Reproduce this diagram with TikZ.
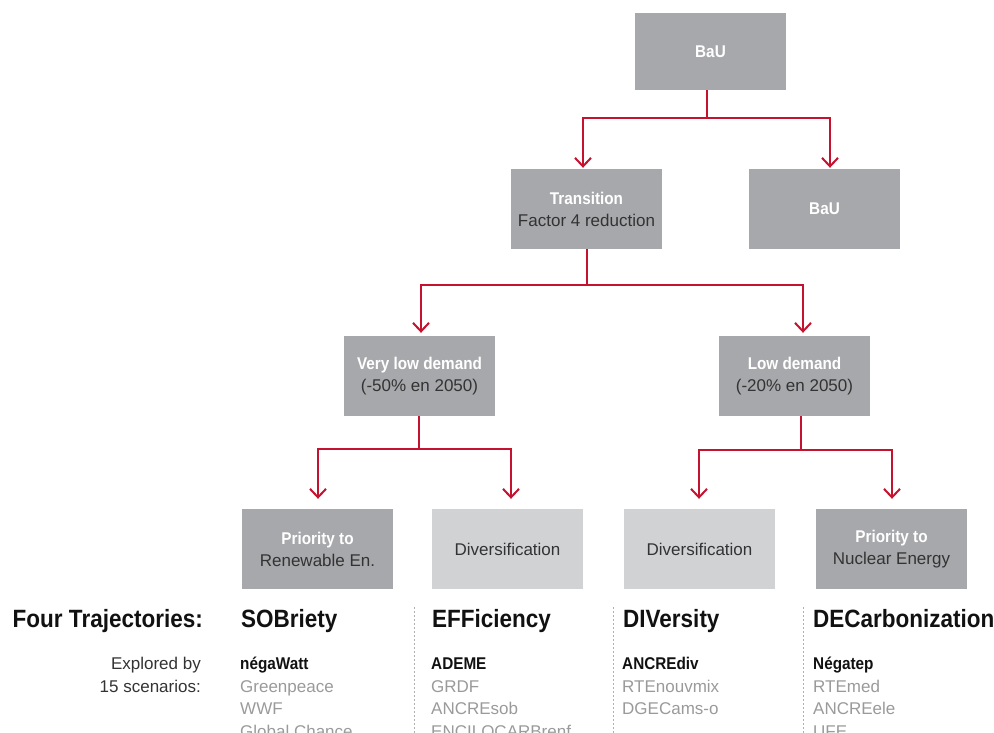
\documentclass[tikz,border=0pt]{standalone}
\usepackage{fontspec}
\setmainfont{Liberation Sans}
\newfontfamily\cb[FakeStretch=0.9]{Liberation Sans}
\usetikzlibrary{arrows.meta}
\definecolor{boxdark}{HTML}{A7A8AB}
\definecolor{boxlight}{HTML}{D1D2D4}
\definecolor{rd}{HTML}{C4122F}
\definecolor{txtdark}{HTML}{333333}
\definecolor{txtgray}{HTML}{9A9A9A}
\definecolor{dashgray}{HTML}{B0B0B0}
\definecolor{headblack}{HTML}{111111}
\newcommand\bw[1]{{\color{white}\cb\bfseries #1}}
\newcommand\bk[1]{{\color{headblack}\cb\bfseries #1}}
\begin{document}
\begin{tikzpicture}[x=1pt,y=-1pt,
  box/.style={minimum width=151pt, minimum height=80pt, inner sep=0pt, align=center,
    text=txtdark, font=\fontsize{17}{22}\selectfont},
  dbox/.style={box, fill=boxdark},
  lbox/.style={box, fill=boxlight},
  conn/.style={draw=rd, line width=2pt},
  arr/.style={conn, -{Straight Barb[length=8.5pt,width=16pt]}},
  head/.style={inner sep=0pt, text=headblack, font=\fontsize{25}{25}\cb\bfseries},
  item/.style={inner sep=0pt, anchor=base west, text=txtgray, font=\fontsize{17}{22}\selectfont},
  expl/.style={inner sep=0pt, anchor=base east, text=txtdark, font=\fontsize{17}{22}\selectfont},
  sep/.style={draw=dashgray, line width=0.8pt, dash pattern=on 2pt off 2pt}
]
\useasboundingbox (0,0) rectangle (994,733);
\clip (0,0) rectangle (994,733);

% boxes
\node[dbox, minimum height=77pt] (bau) at (710.5,51.5) {\bw{BaU}};
\node[dbox] (trans) at (586.5,209) {\bw{Transition}\\Factor 4 reduction};
\node[dbox] (bau2) at (824.5,209) {\bw{BaU}};
\node[dbox] (vlow) at (419.5,376) {\bw{Very low demand}\\(-50\% en 2050)};
\node[dbox] (low) at (794.5,376) {\bw{Low demand}\\(-20\% en 2050)};
\node[dbox] (p1) at (317.5,549) {\bw{Priority to}\\Renewable En.};
\node[lbox] (d1) at (507.5,549) {\raisebox{-4pt}{Diversification}};
\node[lbox] (d2) at (699.5,549) {\raisebox{-4pt}{Diversification}};
\node[dbox] (p2) at (891.5,549) {\bw{Priority to}\\Nuclear Energy};

% connectors
\draw[conn] ([xshift=-3.5pt]bau.south) -- ++(0,28) coordinate (j1);
\draw[arr] (j1) -| ([xshift=-3.5pt,yshift=1pt]trans.north);
\draw[arr] (j1) -| ([xshift=5.5pt,yshift=1pt]bau2.north);

\draw[conn] (trans.south) -- ++(0,36) coordinate (j2);
\draw[arr] (j2) -| ([xshift=1.5pt,yshift=3pt]vlow.north);
\draw[arr] (j2) -| ([xshift=8.5pt,yshift=3pt]low.north);

\draw[conn] ([xshift=-0.5pt]vlow.south) -- ++(0,33) coordinate (j3);
\draw[arr] (j3) -| ([xshift=0.5pt,yshift=10pt]p1.north);
\draw[arr] (j3) -| ([xshift=3.5pt,yshift=10pt]d1.north);

\draw[conn] ([xshift=6.5pt]low.south) -- ++(0,34) coordinate (j4);
\draw[arr] (j4) -| ([xshift=-0.5pt,yshift=10pt]d2.north);
\draw[arr] (j4) -| ([xshift=0.5pt,yshift=10pt]p2.north);

% headings
\node[head, anchor=base east] (ft) at (203,627) {Four Trajectories:};
\node[head, anchor=base west] (h1) at (241,627) {SOBriety};
\node[head, anchor=base west] (h2) at (432,627) {EFFiciency};
\node[head, anchor=base west] (h3) at (623,627) {DIVersity};
\node[head, anchor=base west] (h4) at (813,627) {DECarbonization};

% separators
\draw[sep] (414,607) -- (414,733);
\draw[sep] (613,607) -- (613,733);
\draw[sep] (803,607) -- (803,733);

% explored
\node[expl] (e1) at (201,669) {Explored by};
\node[expl] (e2) at (201,692) {15 scenarios:};

% lists
\node[item] (a1) at (240,669) {\bk{négaWatt}};
\node[item] (a2) at (240,692) {Greenpeace};
\node[item] (a3) at (240,714.5) {WWF};
\node[item] (a4) at (240,737) {Global Chance};

\node[item] (b1) at (431,669) {\bk{ADEME}};
\node[item] (b2) at (431,692) {GRDF};
\node[item] (b3) at (431,714.5) {ANCREsob};
\node[item] (b4) at (431,737) {ENCILOCARBrenf};

\node[item] (c1) at (622,669) {\bk{ANCREdiv}};
\node[item] (c2) at (622,692) {RTEnouvmix};
\node[item] (c3) at (622,714.5) {DGECams-o};

\node[item] (f1) at (813,669) {\bk{Négatep}};
\node[item] (f2) at (813,692) {RTEmed};
\node[item] (f3) at (813,714.5) {ANCREele};
\node[item] (f4) at (813,737) {UFE};
\end{tikzpicture}
\end{document}
